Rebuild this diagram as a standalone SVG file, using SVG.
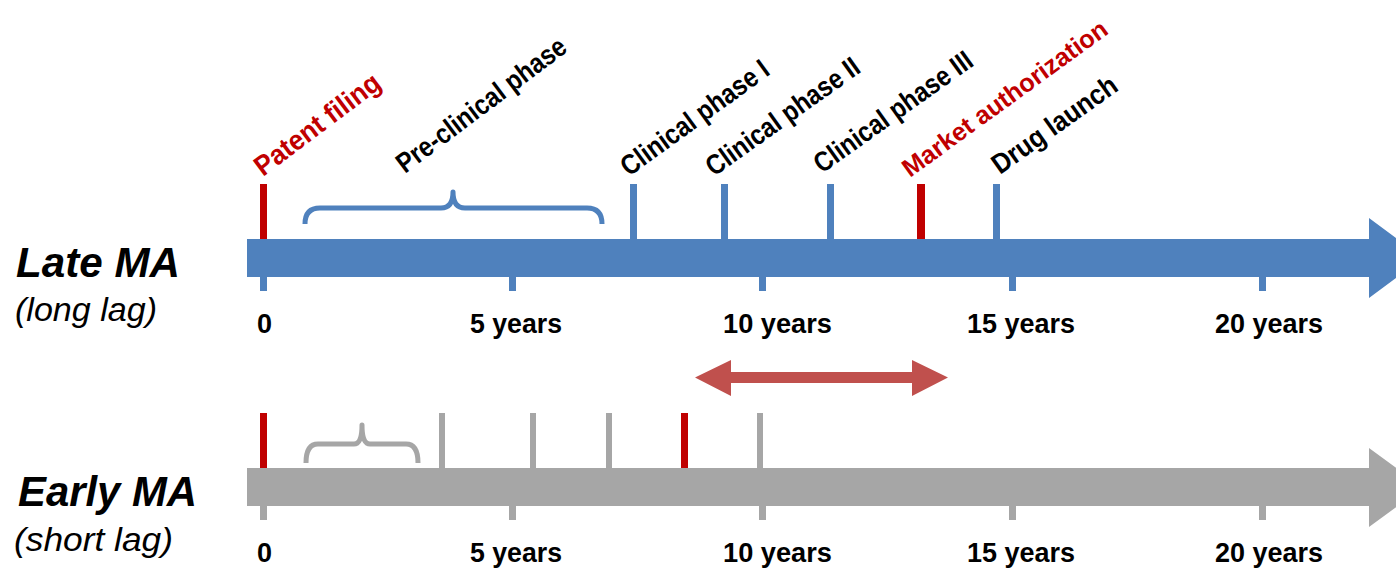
<svg xmlns="http://www.w3.org/2000/svg" width="1396" height="568" viewBox="0 0 1396 568">
<style>
.t{font-family:"Liberation Sans",Arial,sans-serif;font-weight:bold;font-size:27px;fill:#000}
.r{font-family:"Liberation Sans",Arial,sans-serif;font-weight:bold;font-size:28px;fill:#000}
.red{fill:#C00000}
.big{font-family:"Liberation Sans",Arial,sans-serif;font-weight:bold;font-style:italic;font-size:43px;fill:#000}
.sub{font-family:"Liberation Sans",Arial,sans-serif;font-style:italic;font-size:34px;fill:#000}
.bt{fill:#4F81BD}
.gt{fill:#A6A6A6}
.rt{fill:#C00000}
.brB{fill:none;stroke:#4F81BD;stroke-width:5;stroke-linejoin:round}
.brG{fill:none;stroke:#A6A6A6;stroke-width:5;stroke-linejoin:round}
</style>
<rect width="1396" height="568" fill="#fff"/>

<g id="late-timeline">
  <polygon class="bt" points="247,239 1369,239 1369,218 1423,258 1369,298 1369,277 247,277"/>
  <rect class="bt" x="260" y="277" width="7" height="14"/>
  <rect class="bt" x="509" y="277" width="7" height="14"/>
  <rect class="bt" x="759" y="277" width="7" height="14"/>
  <rect class="bt" x="1009" y="277" width="7" height="14"/>
  <rect class="bt" x="1259" y="277" width="7" height="14"/>
  <rect class="rt" x="260" y="184" width="7" height="55"/>
  <rect class="bt" x="630" y="184" width="7" height="55"/>
  <rect class="bt" x="721" y="184" width="7" height="55"/>
  <rect class="bt" x="827" y="184" width="7" height="55"/>
  <rect class="rt" x="917" y="184" width="8" height="55"/>
  <rect class="bt" x="993" y="184" width="7" height="55"/>
  <path class="brB" d="M305,224 Q305,208 320,208 L441,208 Q453,208 453,192 Q453,208 465,208 L587,208 Q602,208 602,224"/>
  <text class="r red" transform="translate(263,177) rotate(-37)" textLength="150" lengthAdjust="spacingAndGlyphs">Patent filing</text>
  <text class="r" transform="translate(405,174) rotate(-37)" textLength="205" lengthAdjust="spacingAndGlyphs">Pre-clinical phase</text>
  <text class="r" transform="translate(629,177) rotate(-36)" textLength="176" lengthAdjust="spacingAndGlyphs">Clinical phase I</text>
  <text class="r" transform="translate(714,177) rotate(-35.5)" textLength="182" lengthAdjust="spacingAndGlyphs">Clinical phase II</text>
  <text class="r" transform="translate(822,174) rotate(-35.5)" textLength="188" lengthAdjust="spacingAndGlyphs">Clinical phase III</text>
  <text class="r red" style="font-size:25.5px" transform="translate(910,178) rotate(-36)" textLength="247" lengthAdjust="spacingAndGlyphs">Market authorization</text>
  <text class="r" transform="translate(1000,175) rotate(-35.5)" textLength="147" lengthAdjust="spacingAndGlyphs">Drug launch</text>
  <text class="t" x="257" y="333">0</text>
  <text class="t" x="470" y="333" textLength="92" lengthAdjust="spacingAndGlyphs">5 years</text>
  <text class="t" x="723" y="333" textLength="109" lengthAdjust="spacingAndGlyphs">10 years</text>
  <text class="t" x="967" y="333" textLength="108" lengthAdjust="spacingAndGlyphs">15 years</text>
  <text class="t" x="1215" y="333" textLength="108" lengthAdjust="spacingAndGlyphs">20 years</text>
</g>

<g id="late-label">
  <text class="big" x="16" y="277" textLength="164" lengthAdjust="spacingAndGlyphs">Late MA</text>
  <text class="sub" x="15" y="321" textLength="142" lengthAdjust="spacingAndGlyphs">(long lag)</text>
</g>

<g id="early-timeline">
  <polygon class="gt" points="247,468 1369,468 1369,448 1423,487.5 1369,527 1369,506 247,506"/>
  <rect class="gt" x="260" y="506" width="7" height="14"/>
  <rect class="gt" x="509" y="506" width="7" height="14"/>
  <rect class="gt" x="759" y="506" width="7" height="14"/>
  <rect class="gt" x="1009" y="506" width="7" height="14"/>
  <rect class="gt" x="1259" y="506" width="7" height="14"/>
  <rect class="rt" x="260" y="413" width="7" height="55"/>
  <rect class="gt" x="439" y="413" width="6" height="55"/>
  <rect class="gt" x="530" y="413" width="6" height="55"/>
  <rect class="gt" x="606" y="413" width="6" height="55"/>
  <rect class="rt" x="681" y="413" width="7" height="55"/>
  <rect class="gt" x="757" y="413" width="6" height="55"/>
  <path class="brG" d="M306,463 Q306,444 318,444 L354,444 Q362,444 362,425 Q362,444 370,444 L406,444 Q418,444 418,463"/>
  <text class="t" x="257" y="562">0</text>
  <text class="t" x="470" y="562" textLength="92" lengthAdjust="spacingAndGlyphs">5 years</text>
  <text class="t" x="723" y="562" textLength="109" lengthAdjust="spacingAndGlyphs">10 years</text>
  <text class="t" x="967" y="562" textLength="108" lengthAdjust="spacingAndGlyphs">15 years</text>
  <text class="t" x="1215" y="562" textLength="108" lengthAdjust="spacingAndGlyphs">20 years</text>
</g>

<g id="early-label">
  <text class="big" x="18" y="506" textLength="179" lengthAdjust="spacingAndGlyphs">Early MA</text>
  <text class="sub" x="14" y="551" textLength="159" lengthAdjust="spacingAndGlyphs">(short lag)</text>
</g>

<g id="connectors">
  <polygon fill="#C0504D" points="695,377.5 731,360 731,372 912,372 912,360 948,377.5 912,396 912,383 731,383 731,396"/>
</g>
</svg>
